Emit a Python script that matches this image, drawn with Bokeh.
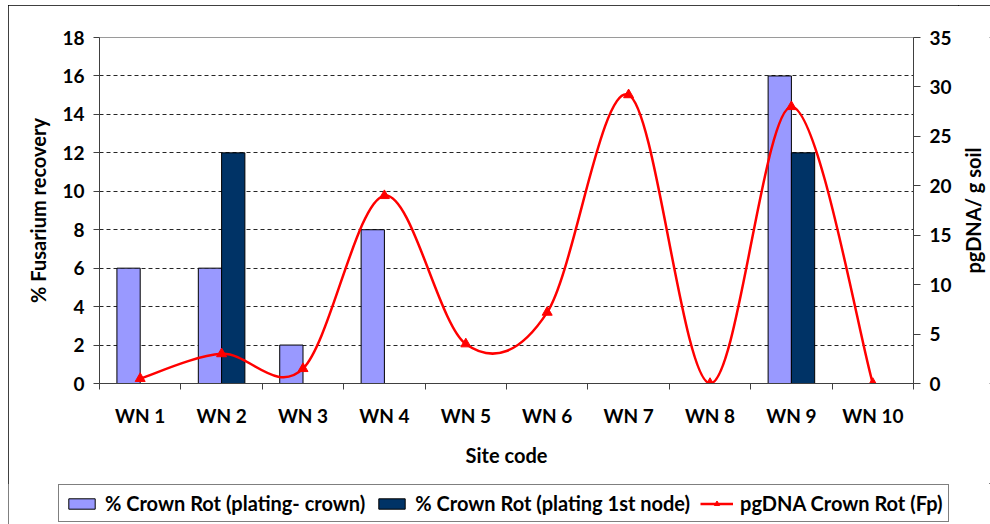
from bokeh.plotting import figure
from bokeh.layouts import column, row
from bokeh.models import Range1d, LinearAxis, FixedTicker, Legend, LegendItem, Title
from bokeh.embed import file_html
from bokeh.resources import INLINE

# ---- data ----
sites = ["WN 1", "WN 2", "WN 3", "WN 4", "WN 5", "WN 6", "WN 7", "WN 8", "WN 9", "WN 10"]
crown_plating = [6, 6, 2, 8, 0, 0, 0, 0, 16, 0]
node_plating = [0, 12, 0, 0, 0, 0, 0, 0, 12, 0]
pgdna = [0.5, 3.0, 1.5, 19.0, 4.0, 7.2, 29.2, 0.0, 28.0, 0.0]
left_ticks = [0, 2, 4, 6, 8, 10, 12, 14, 16, 18]
right_ticks = [0, 5, 10, 15, 20, 25, 30, 35]
series_names = ["% Crown Rot (plating- crown)", "% Crown Rot (plating 1st node)",
                "pgDNA Crown Rot (Fp)"]
right_title = "pgDNA/ g soil"

FONT = "Lato"
TICK_FS = "19px"
TITLE_FS = "20px"
LIGHT = "#9999FF"
DARK = "#003366"
RED = "#FF0000"
n = len(sites)
centers = [i + 0.5 for i in range(n)]
bounds = [float(i) for i in range(n + 1)]
bw = 0.286
x_light = [c - bw / 2 for c in centers]
x_dark = [c + bw / 2 for c in centers]

p1 = figure(width=950, height=478, x_range=Range1d(0, n), y_range=Range1d(0, 18),
            output_backend="svg", toolbar_location=None,
            min_border_left=91, min_border_right=45, min_border_top=32, min_border_bottom=100)
p1.extra_y_ranges = {"dna": Range1d(0, 35)}
p1.outline_line_color = "#9a9a9a"
p1.background_fill_color = "white"

# grid
p1.xgrid.visible = False
p1.ygrid.ticker = FixedTicker(ticks=left_ticks)
p1.ygrid.grid_line_color = "#262626"
p1.ygrid.grid_line_dash = "4 3"
p1.ygrid.grid_line_width = 1

# bars
p1.vbar(x=x_light, top=crown_plating, width=bw, bottom=0,
        fill_color=LIGHT, line_color="#000000", line_width=1)
p1.vbar(x=x_dark, top=node_plating, width=bw, bottom=0,
        fill_color=DARK, line_color="#000000", line_width=1)

# smoothed line (Bezier segments with control points from neighbouring data points)
x0s, y0s, x1s, y1s, cx0s, cy0s, cx1s, cy1s = [], [], [], [], [], [], [], []
for i in range(n - 1):
    ip = i - 1 if i > 0 else i
    inx = i + 2 if i + 2 < n else i + 1
    x0s.append(centers[i]); y0s.append(pgdna[i])
    x1s.append(centers[i + 1]); y1s.append(pgdna[i + 1])
    cx0s.append(centers[i] + (centers[i + 1] - centers[ip]) / 6)
    cy0s.append(pgdna[i] + (pgdna[i + 1] - pgdna[ip]) / 6)
    cx1s.append(centers[i + 1] - (centers[inx] - centers[i]) / 6)
    cy1s.append(pgdna[i + 1] - (pgdna[inx] - pgdna[i]) / 6)

p1.bezier(x0=x0s, y0=y0s, x1=x1s, y1=y1s, cx0=cx0s, cy0=cy0s, cx1=cx1s, cy1=cy1s,
          line_color=RED, line_width=2.5, line_cap="round", y_range_name="dna")
p1.scatter(x=centers, y=pgdna, marker="triangle", size=10, fill_color=RED,
           line_color=RED, y_range_name="dna")

# x axis
xa = p1.xaxis[0]
xa.ticker = FixedTicker(ticks=centers, minor_ticks=bounds)
xa.major_label_overrides = {c: s for c, s in zip(centers, sites)}
xa.major_tick_line_color = None
xa.major_tick_out = 6
xa.major_tick_in = 0
xa.minor_tick_out = 6
xa.minor_tick_in = 0
xa.minor_tick_line_color = "#404040"
xa.axis_line_color = "#404040"
xa.major_label_standoff = 14
xa.major_label_text_font = FONT
xa.major_label_text_font_style = "bold"
xa.major_label_text_font_size = TICK_FS
xa.major_label_text_color = "#000000"
xa.axis_label = "Site code"
xa.axis_label_text_font = FONT
xa.axis_label_text_font_style = "bold"
xa.axis_label_text_font_size = TITLE_FS
xa.axis_label_text_color = "#000000"
xa.axis_label_standoff = 13

# left axis
ya = p1.yaxis[0]
ya.ticker = FixedTicker(ticks=left_ticks)
ya.minor_tick_line_color = None
ya.major_tick_out = 6
ya.major_tick_in = 0
ya.major_tick_line_color = "#404040"
ya.axis_line_color = "#404040"
ya.major_label_standoff = 9
ya.major_label_text_font = FONT
ya.major_label_text_font_style = "bold"
ya.major_label_text_font_size = TICK_FS
ya.major_label_text_color = "#000000"
ya.axis_label = "% Fusarium recovery"
ya.axis_label_text_font = FONT
ya.axis_label_text_font_style = "bold"
ya.axis_label_text_font_size = TITLE_FS
ya.axis_label_text_color = "#000000"
ya.axis_label_standoff = 9

# right axis (its title is drawn by the narrow strip to the right, reading upwards)
ra = LinearAxis(y_range_name="dna", ticker=FixedTicker(ticks=right_ticks))
ra.minor_tick_line_color = None
ra.major_tick_out = 7
ra.major_tick_in = 0
ra.major_tick_line_color = "#404040"
ra.axis_line_color = "#404040"
ra.major_label_standoff = 9
ra.major_label_text_font = FONT
ra.major_label_text_font_style = "bold"
ra.major_label_text_font_size = TICK_FS
ra.major_label_text_color = "#000000"
p1.add_layout(ra, "right")

# narrow strip holding the right axis title (frame aligned with the chart's frame)
p3 = figure(width=32, height=478, x_range=Range1d(0, 1), y_range=Range1d(0, 1),
            output_backend="svg", toolbar_location=None,
            x_axis_type=None, y_axis_type=None,
            min_border_left=0, min_border_right=0, min_border_top=32, min_border_bottom=100)
p3.outline_line_color = None
p3.xgrid.visible = False
p3.ygrid.visible = False
p3.add_layout(Title(text=right_title, align="center", text_font=FONT,
                    text_font_size=TITLE_FS, text_font_style="bold",
                    text_color="#000000", standoff=0, offset=0), "left")

# legend strip (separate figure below the chart; its renderers use the same
# series but lie outside its visible range, so only the legend shows)
p2 = figure(width=982, height=41, x_range=Range1d(0, n), y_range=Range1d(1000, 1001),
            output_backend="svg", toolbar_location=None,
            x_axis_type=None, y_axis_type=None,
            min_border_left=0, min_border_right=0, min_border_top=0, min_border_bottom=0)
p2.frame_align = False
p2.outline_line_color = None
p2.xgrid.visible = False
p2.ygrid.visible = False
g1 = p2.vbar(x=x_light, top=crown_plating, width=bw, fill_color=LIGHT, line_color="#000000")
g2 = p2.vbar(x=x_dark, top=node_plating, width=bw, fill_color=DARK, line_color="#000000")
g3 = p2.line(x=centers, y=pgdna, line_color=RED, line_width=2.5)
g4 = p2.scatter(x=centers, y=pgdna, marker="triangle", size=10, fill_color=RED, line_color=RED)

legend = Legend(items=[
    LegendItem(label=series_names[0], renderers=[g1]),
    LegendItem(label=series_names[1], renderers=[g2]),
    LegendItem(label=series_names[2], renderers=[g3, g4]),
], orientation="horizontal", location=(50, 2))
legend.label_text_font = FONT
legend.label_text_font_style = "bold"
legend.label_text_font_size = "20px"
legend.label_text_color = "#000000"
legend.label_standoff = 7
legend.glyph_width = 33
legend.glyph_height = 13
legend.spacing = 10
legend.padding = 6
legend.margin = 0
legend.border_line_color = "#000000"
legend.border_line_width = 1
legend.background_fill_alpha = 1
p2.add_layout(legend, "center")

p = column(row(p1, p3, spacing=0), p2, spacing=0)
p.styles = {"margin-left": "8px", "margin-top": "5px", "outline": "1px solid #000000",
            "outline-offset": "-1px"}

open("out.html", "w").write(file_html(p, INLINE))
